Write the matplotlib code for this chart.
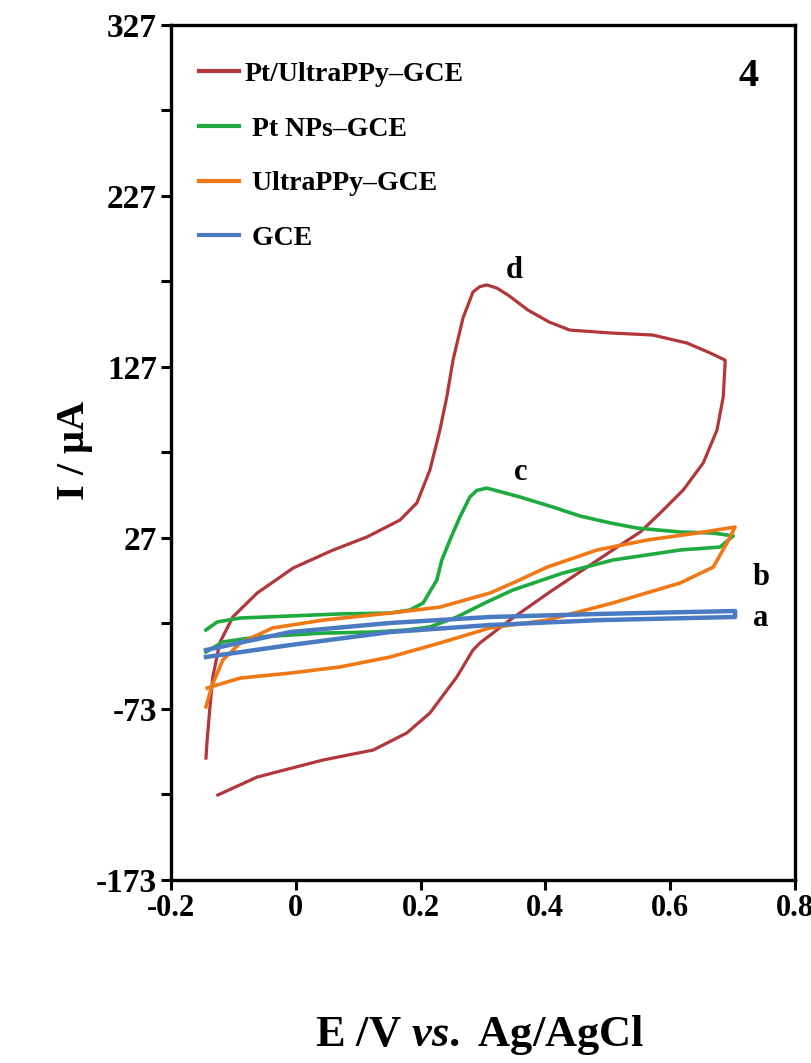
import matplotlib
matplotlib.use('Agg')
import matplotlib.pyplot as plt

plt.rcParams['font.family'] = ['Liberation Serif', 'DejaVu Serif']
plt.rcParams['font.weight'] = 'bold'
plt.rcParams['axes.unicode_minus'] = False
plt.rcParams['mathtext.fontset'] = 'custom'
plt.rcParams['mathtext.it'] = 'Liberation Serif:italic:bold'
plt.rcParams['mathtext.rm'] = 'Liberation Serif:bold'

# curve d : Pt/UltraPPy-GCE
E_d = [-0.125, -0.062, 0.044, 0.124, 0.178, 0.215, 0.258, 0.284, 0.295, 0.343, 0.407,
       0.467, 0.515, 0.552, 0.584, 0.621, 0.653, 0.675, 0.685, 0.688, 0.688,
       0.664, 0.627, 0.572, 0.504, 0.439, 0.406, 0.372, 0.340, 0.322, 0.306,
       0.295, 0.284, 0.268, 0.252, 0.242, 0.231, 0.215, 0.194, 0.167, 0.114, 0.060,
       -0.004, -0.062, -0.101, -0.122, -0.133, -0.138, -0.142, -0.144]
I_d = [-123.3, -112.8, -102.8, -97.0, -87.0, -75.3, -54.3, -38.5, -34.4, -21.0, -4.6,
       10.0, 21.7, 30.5, 41.6, 55.1, 70.9, 90.2, 109.5, 129.3, 131.0,
       135.2, 141.0, 145.7, 146.9, 148.6, 153.3, 160.3, 169.1, 173.2, 175.0,
       174.0, 170.9, 155.7, 131.1, 109.5, 90.2, 66.8, 47.5, 37.5, 27.6, 20.0,
       9.5, -5.2, -19.2, -34.4, -54.3, -73.6, -91.1, -101.7]

# curve c : Pt NPs-GCE
E_c = [-0.144, -0.117, -0.062, 0.044, 0.124, 0.178, 0.215, 0.258, 0.303, 0.348, 0.428,
       0.508, 0.616, 0.680, 0.701,
       0.669, 0.616, 0.547, 0.504, 0.455, 0.412, 0.359, 0.306, 0.290, 0.279, 0.263,
       0.247, 0.234, 0.226, 0.204, 0.183, 0.151, 0.071, -0.009, -0.089, -0.126, -0.144]
I_c = [-39.7, -33.8, -30.9, -28.6, -28.0, -26.8, -25.0, -19.2, -11.0, -3.4, 6.5,
       14.1, 20.0, 21.7, 28.2,
       29.9, 30.5, 32.8, 35.8, 39.9, 45.1, 51.0, 56.2, 54.8, 51.0, 39.3,
       25.8, 14.1, 2.4, -11.0, -15.1, -16.9, -17.4, -18.6, -19.8, -22.1, -26.8]

# curve b : UltraPPy-GCE
E_b = [-0.142, -0.089, -0.009, 0.071, 0.151, 0.231, 0.311, 0.403, 0.508, 0.616, 0.669,
       0.691, 0.704,
       0.643, 0.563, 0.483, 0.403, 0.348, 0.311, 0.231, 0.151, 0.044, -0.037,
       -0.089, -0.117, -0.134, -0.144]
I_b = [-60.7, -54.9, -52.0, -48.4, -42.6, -34.4, -25.6, -21.0, -11.0, 0.7, 10.0,
       24.1, 33.4,
       29.9, 25.8, 20.0, 10.0, 0.7, -5.2, -13.4, -16.9, -21.0, -25.6,
       -34.4, -44.3, -59.0, -71.8]

# curve a : GCE
E_a = [-0.144, -0.009, 0.151, 0.311, 0.488, 0.704, 0.704, 0.488, 0.311, 0.151, -0.009, -0.144]
I_a = [-38.5, -28.0, -22.7, -19.2, -17.4, -15.7, -19.2, -21.0, -23.9, -28.0, -35.6, -42.6]

labels = ['Pt/UltraPPy\u2013GCE', ' Pt NPs\u2013GCE', ' UltraPPy\u2013GCE', ' GCE']
colors = ['#b2373a', '#1faa3f', '#f07815', '#4a7bc2']
xticks = [-0.2, 0, 0.2, 0.4, 0.6, 0.8]
xticklabels = ['-0.2', '0', '0.2', '0.4', '0.6', '0.8']
yticks = [-173, -73, 27, 127, 227, 327]
yminor = [-123, -23, 77, 177, 277]

fig = plt.figure(figsize=(8.12, 10.63), dpi=100)
ax = fig.add_axes([171/812, 1-880/1063, 624/812, 855/1063])

h_d, = ax.plot(E_d, I_d, color=colors[0], lw=2.3, solid_joinstyle='round')
h_c, = ax.plot(E_c, I_c, color=colors[1], lw=2.6, solid_joinstyle='round')
h_b, = ax.plot(E_b, I_b, color=colors[2], lw=2.6, solid_joinstyle='round')
h_a, = ax.plot(E_a, I_a, color=colors[3], lw=3.2, solid_joinstyle='round')

ax.set_xlim(-0.2, 0.8)
ax.set_ylim(-173, 327)
ax.set_xticks(xticks)
ax.set_xticklabels(xticklabels)
ax.set_yticks(yticks)
ax.set_yticklabels([str(v) for v in yticks])
ax.set_yticks(yminor, minor=True)
ax.tick_params(axis='both', which='major', direction='out', length=7, width=2.2, pad=3)
ax.tick_params(axis='x', labelsize=22)
ax.tick_params(axis='y', labelsize=24)
ax.tick_params(axis='y', which='minor', direction='out', length=7, width=2.2)
for s in ax.spines.values():
    s.set_linewidth(2.4)

leg = ax.legend([h_d, h_c, h_b, h_a], labels, loc='upper left',
                bbox_to_anchor=(0.045, 0.957), frameon=False, fontsize=20,
                handlelength=1.45, handletextpad=0.2, labelspacing=1.05,
                borderpad=0, borderaxespad=0)
for ln in leg.get_lines():
    ln.set_linewidth(3)

ax.text(0.925, 0.94, '4', transform=ax.transAxes, fontsize=29,
        fontweight='bold', ha='center', va='center')
ax.text(0.35, 175, 'd', fontsize=22, ha='center', va='bottom')
ax.text(0.36, 57, 'c', fontsize=22, ha='center', va='bottom')
ax.text(0.745, 4, 'b', fontsize=22, ha='center', va='center')
ax.text(0.745, -20, 'a', fontsize=22, ha='center', va='center')

fig.text(75/812, 1-450/1063, 'I / \u03bcA', rotation=90, fontsize=29,
         fontweight='bold', ha='center', va='center')
fig.text(480/812, 1-1035/1063, r'E /V $\mathit{vs.}$ Ag/AgCl', fontsize=32,
         ha='center', va='center')

fig.savefig('out.png', dpi=100)
